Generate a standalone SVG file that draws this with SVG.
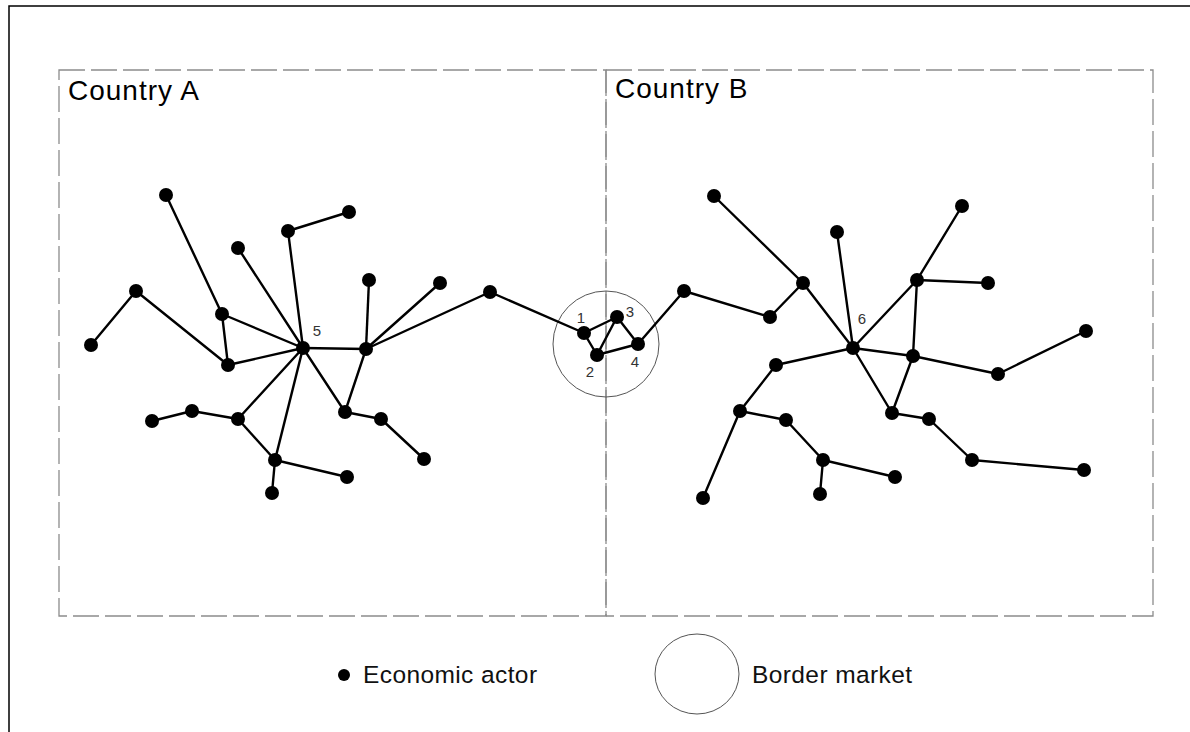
<svg xmlns="http://www.w3.org/2000/svg" width="1190" height="732" viewBox="0 0 1190 732">
  <style>
    .frame { fill: none; stroke: #000; stroke-width: 1.5; }
    .border { fill: none; stroke: #8c8c8c; stroke-width: 1.3; stroke-dasharray: 26 6; }
    .market { fill: none; stroke: #555; stroke-width: 1; }
    .edge { stroke: #000; stroke-width: 2.4; stroke-linecap: round; fill: none; }
    .actor { fill: #000; }
    .title { font-family: "Liberation Sans", Arial, sans-serif; font-size: 28px; fill: #000; letter-spacing: 1px; }
    .num { font-family: "Liberation Sans", Arial, sans-serif; font-size: 15px; fill: #333; text-anchor: middle; }
    .legend { font-family: "Liberation Sans", Arial, sans-serif; font-size: 24.5px; fill: #111; letter-spacing: 0.4px; }
  </style>
  <defs>
    <circle id="dot" r="7" class="actor"/>
  </defs>
  <rect width="1190" height="732" fill="#fff"/>

  <!-- outer frame (top and left edges) -->
  <path class="frame" d="M9,732 V6 H1190"/>

  <!-- country areas -->
  <g id="country-a">
    <rect class="border" x="59" y="70" width="547" height="546"/>
    <text class="title" x="68" y="100">Country A</text>
  </g>
  <g id="country-b">
    <path class="border" d="M606,70 H1153 V616 H606"/>
    <line class="border" x1="606" y1="70" x2="606" y2="616" stroke-dasharray="20 5"/>
    <text class="title" x="615" y="98">Country B</text>
  </g>

  <!-- border market -->
  <g id="border-market">
    <circle class="market" cx="606" cy="344" r="53"/>
  </g>

  <!-- links between economic actors -->
  <g id="connectors">
    <!-- country A -->
    <line class="edge" x1="166" y1="195" x2="222" y2="314"/>
    <line class="edge" x1="136" y1="291" x2="91" y2="345"/>
    <line class="edge" x1="136" y1="291" x2="228" y2="365"/>
    <line class="edge" x1="222" y1="314" x2="228" y2="365"/>
    <line class="edge" x1="222" y1="314" x2="303" y2="348"/>
    <line class="edge" x1="228" y1="365" x2="303" y2="348"/>
    <line class="edge" x1="238" y1="248" x2="303" y2="348"/>
    <line class="edge" x1="288" y1="231" x2="303" y2="348"/>
    <line class="edge" x1="288" y1="231" x2="349" y2="212"/>
    <line class="edge" x1="303" y1="348" x2="366" y2="349"/>
    <line class="edge" x1="366" y1="349" x2="369" y2="280"/>
    <line class="edge" x1="366" y1="349" x2="440" y2="283"/>
    <line class="edge" x1="366" y1="349" x2="490" y2="292"/>
    <line class="edge" x1="303" y1="348" x2="345" y2="412"/>
    <line class="edge" x1="366" y1="349" x2="345" y2="412"/>
    <line class="edge" x1="345" y1="412" x2="381" y2="419"/>
    <line class="edge" x1="381" y1="419" x2="424" y2="459"/>
    <line class="edge" x1="303" y1="348" x2="238" y2="419"/>
    <line class="edge" x1="303" y1="348" x2="275" y2="460"/>
    <line class="edge" x1="238" y1="419" x2="192" y2="411"/>
    <line class="edge" x1="192" y1="411" x2="152" y2="421"/>
    <line class="edge" x1="238" y1="419" x2="275" y2="460"/>
    <line class="edge" x1="275" y1="460" x2="272" y2="493"/>
    <line class="edge" x1="275" y1="460" x2="347" y2="477"/>
    <line class="edge" x1="490" y1="292" x2="584" y2="333"/>
    <!-- market -->
    <line class="edge" x1="584" y1="333" x2="597" y2="355"/>
    <line class="edge" x1="584" y1="333" x2="617" y2="317"/>
    <line class="edge" x1="597" y1="355" x2="617" y2="317"/>
    <line class="edge" x1="597" y1="355" x2="638" y2="344"/>
    <line class="edge" x1="617" y1="317" x2="638" y2="344"/>
    <line class="edge" x1="638" y1="344" x2="684" y2="291"/>
    <!-- country B -->
    <line class="edge" x1="684" y1="291" x2="770" y2="317"/>
    <line class="edge" x1="770" y1="317" x2="803" y2="283"/>
    <line class="edge" x1="714" y1="196" x2="803" y2="283"/>
    <line class="edge" x1="803" y1="283" x2="853" y2="348"/>
    <line class="edge" x1="837" y1="232" x2="853" y2="348"/>
    <line class="edge" x1="853" y1="348" x2="917" y2="280"/>
    <line class="edge" x1="917" y1="280" x2="962" y2="206"/>
    <line class="edge" x1="917" y1="280" x2="988" y2="283"/>
    <line class="edge" x1="917" y1="280" x2="913" y2="356"/>
    <line class="edge" x1="853" y1="348" x2="913" y2="356"/>
    <line class="edge" x1="913" y1="356" x2="998" y2="374"/>
    <line class="edge" x1="998" y1="374" x2="1086" y2="331"/>
    <line class="edge" x1="853" y1="348" x2="776" y2="365"/>
    <line class="edge" x1="776" y1="365" x2="740" y2="411"/>
    <line class="edge" x1="740" y1="411" x2="703" y2="498"/>
    <line class="edge" x1="740" y1="411" x2="786" y2="420"/>
    <line class="edge" x1="786" y1="420" x2="823" y2="460"/>
    <line class="edge" x1="823" y1="460" x2="820" y2="494"/>
    <line class="edge" x1="823" y1="460" x2="895" y2="477"/>
    <line class="edge" x1="853" y1="348" x2="892" y2="413"/>
    <line class="edge" x1="913" y1="356" x2="892" y2="413"/>
    <line class="edge" x1="892" y1="413" x2="929" y2="419"/>
    <line class="edge" x1="929" y1="419" x2="972" y2="460"/>
    <line class="edge" x1="972" y1="460" x2="1084" y2="470"/>
  </g>

  <!-- economic actors, country A -->
  <g id="actors-a">
    <g id="a5"><use href="#dot" x="303" y="348"/><text class="num" x="317" y="336">5</text></g>
    <g id="a01"><use href="#dot" x="166" y="195"/></g>
    <g id="a02"><use href="#dot" x="288" y="231"/></g>
    <g id="a03"><use href="#dot" x="349" y="212"/></g>
    <g id="a04"><use href="#dot" x="238" y="248"/></g>
    <g id="a05"><use href="#dot" x="136" y="291"/></g>
    <g id="a06"><use href="#dot" x="91" y="345"/></g>
    <g id="a07"><use href="#dot" x="222" y="314"/></g>
    <g id="a08"><use href="#dot" x="228" y="365"/></g>
    <g id="a09"><use href="#dot" x="366" y="349"/></g>
    <g id="a10"><use href="#dot" x="369" y="280"/></g>
    <g id="a11"><use href="#dot" x="440" y="283"/></g>
    <g id="a12"><use href="#dot" x="490" y="292"/></g>
    <g id="a13"><use href="#dot" x="345" y="412"/></g>
    <g id="a14"><use href="#dot" x="381" y="419"/></g>
    <g id="a15"><use href="#dot" x="424" y="459"/></g>
    <g id="a16"><use href="#dot" x="152" y="421"/></g>
    <g id="a17"><use href="#dot" x="192" y="411"/></g>
    <g id="a18"><use href="#dot" x="238" y="419"/></g>
    <g id="a19"><use href="#dot" x="275" y="460"/></g>
    <g id="a20"><use href="#dot" x="272" y="493"/></g>
    <g id="a21"><use href="#dot" x="347" y="477"/></g>
  </g>

  <!-- economic actors trading at the border market -->
  <g id="actors-market">
    <g id="m1"><use href="#dot" x="584" y="333"/><text class="num" x="581" y="323">1</text></g>
    <g id="m2"><use href="#dot" x="597" y="355"/><text class="num" x="590" y="377">2</text></g>
    <g id="m3"><use href="#dot" x="617" y="317"/><text class="num" x="630" y="317">3</text></g>
    <g id="m4"><use href="#dot" x="638" y="344"/><text class="num" x="635" y="367">4</text></g>
  </g>

  <!-- economic actors, country B -->
  <g id="actors-b">
    <g id="b6"><use href="#dot" x="853" y="348"/><text class="num" x="862" y="324">6</text></g>
    <g id="b01"><use href="#dot" x="684" y="291"/></g>
    <g id="b02"><use href="#dot" x="770" y="317"/></g>
    <g id="b03"><use href="#dot" x="803" y="283"/></g>
    <g id="b04"><use href="#dot" x="714" y="196"/></g>
    <g id="b05"><use href="#dot" x="837" y="232"/></g>
    <g id="b06"><use href="#dot" x="917" y="280"/></g>
    <g id="b07"><use href="#dot" x="962" y="206"/></g>
    <g id="b08"><use href="#dot" x="988" y="283"/></g>
    <g id="b09"><use href="#dot" x="913" y="356"/></g>
    <g id="b10"><use href="#dot" x="998" y="374"/></g>
    <g id="b11"><use href="#dot" x="1086" y="331"/></g>
    <g id="b12"><use href="#dot" x="776" y="365"/></g>
    <g id="b13"><use href="#dot" x="740" y="411"/></g>
    <g id="b14"><use href="#dot" x="703" y="498"/></g>
    <g id="b15"><use href="#dot" x="786" y="420"/></g>
    <g id="b16"><use href="#dot" x="823" y="460"/></g>
    <g id="b17"><use href="#dot" x="820" y="494"/></g>
    <g id="b18"><use href="#dot" x="895" y="477"/></g>
    <g id="b19"><use href="#dot" x="892" y="413"/></g>
    <g id="b20"><use href="#dot" x="929" y="419"/></g>
    <g id="b21"><use href="#dot" x="972" y="460"/></g>
    <g id="b22"><use href="#dot" x="1084" y="470"/></g>
  </g>

  <!-- legend -->
  <g id="legend-actor">
    <circle class="actor" cx="344" cy="675" r="6"/>
    <text class="legend" x="363" y="683">Economic actor</text>
  </g>
  <g id="legend-market">
    <ellipse class="market" cx="697" cy="674" rx="42" ry="40"/>
    <text class="legend" x="752" y="683">Border market</text>
  </g>
</svg>
